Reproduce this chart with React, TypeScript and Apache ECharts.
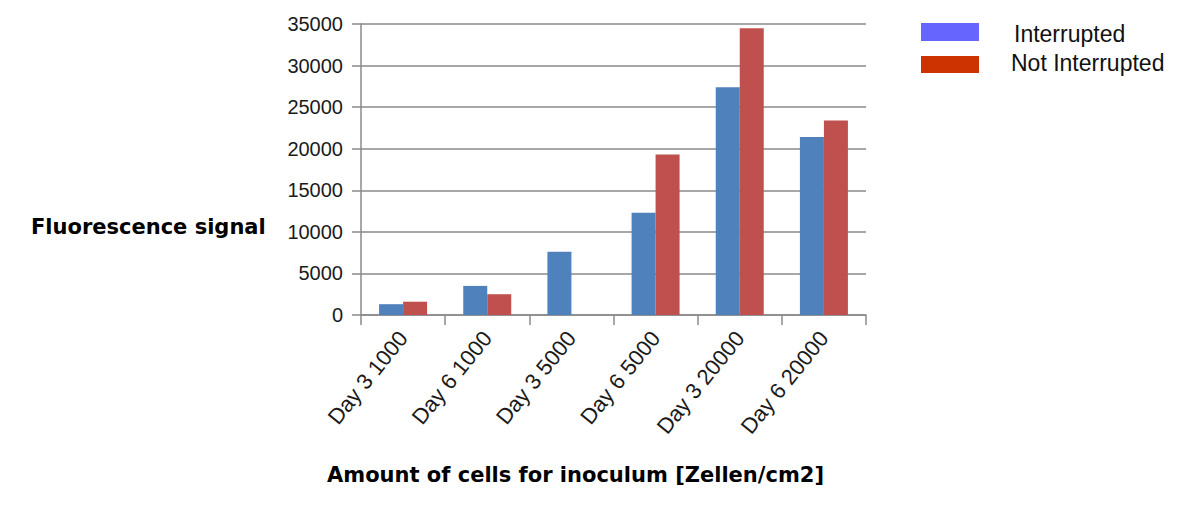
import React, { useEffect, useRef } from "react";
import * as echarts from "echarts";

const categories = ["Day 3 1000", "Day 6 1000", "Day 3 5000", "Day 6 5000", "Day 3 20000", "Day 6 20000"];
const interrupted = [1300, 3500, 7600, 12300, 27400, 21400];
const notInterrupted = [1600, 2500, 0, 19300, 34500, 23400];
const seriesNames = ["Interrupted", "Not Interrupted"];
const yTicks = { min: 0, max: 35000, interval: 5000 };
const yTitle = "Fluorescence signal";
const xTitle = "Amount of cells for inoculum [Zellen/cm2]";

export default function App() {
  const ref = useRef<HTMLDivElement>(null);
  useEffect(() => {
    if (!ref.current) return;
    const chart = echarts.init(ref.current, null, { renderer: "svg" });
    const sans = "'Liberation Sans', Arial, sans-serif";
    const boldFont = "'DejaVu Sans', Verdana, sans-serif";
    chart.setOption({
      animation: false,
      backgroundColor: "#ffffff",
      grid: { left: 361, right: 334, top: 24, bottom: 213, containLabel: false },
      xAxis: {
        type: "category",
        data: categories,
        boundaryGap: true,
        axisLine: { show: true, lineStyle: { color: "#8a8a8a", width: 1.5 } },
        axisTick: { show: true, length: 10, lineStyle: { color: "#8a8a8a", width: 1.5 } },
        axisLabel: { rotate: 51, margin: 19, fontSize: 22, color: "#1a1a1a", fontFamily: sans, interval: 0 },
      },
      yAxis: {
        type: "value",
        min: yTicks.min,
        max: yTicks.max,
        interval: yTicks.interval,
        axisLine: { show: true, lineStyle: { color: "#8a8a8a", width: 1.5 } },
        axisTick: { show: true, length: 9, lineStyle: { color: "#8a8a8a", width: 1.5 } },
        splitLine: { show: true, lineStyle: { color: "#8a8a8a", width: 1.5 } },
        axisLabel: {
          margin: 18, fontSize: 20, color: "#1a1a1a", fontFamily: sans,
          formatter: (v: number) => String(v),
        },
      },
      series: [
        {
          name: seriesNames[0],
          type: "bar",
          data: interrupted,
          barWidth: 24,
          barGap: "0%",
          itemStyle: { color: "#4f81bd" },
        },
        {
          name: seriesNames[1],
          type: "bar",
          data: notInterrupted,
          barWidth: 24,
          barGap: "0%",
          itemStyle: { color: "#c0504d" },
        },
      ],
      graphic: [
        { type: "rect", left: 921, top: 23, shape: { width: 58, height: 18 }, style: { fill: "#6666ff" } },
        { type: "rect", left: 921, top: 56, shape: { width: 58, height: 17 }, style: { fill: "#cc3300" } },
        {
          type: "text", left: 1014, top: 22,
          style: { text: seriesNames[0], fontSize: 23, fontFamily: sans, fill: "#111111" },
        },
        {
          type: "text", left: 1011, top: 51,
          style: { text: seriesNames[1], fontSize: 23, fontFamily: sans, fill: "#111111" },
        },
        {
          type: "text", left: 31, top: 216,
          style: { text: yTitle, fontSize: 21, fontWeight: "bold", fontFamily: boldFont, fill: "#000000" },
        },
        {
          type: "text", left: 327, top: 464,
          style: { text: xTitle, fontSize: 21, fontWeight: "bold", fontFamily: boldFont, fill: "#000000" },
        },
      ],
    });
    return () => chart.dispose();
  }, []);
  return <div ref={ref} style={{ position: "absolute", left: 0, top: 0, width: 1200, height: 528 }} />;
}
